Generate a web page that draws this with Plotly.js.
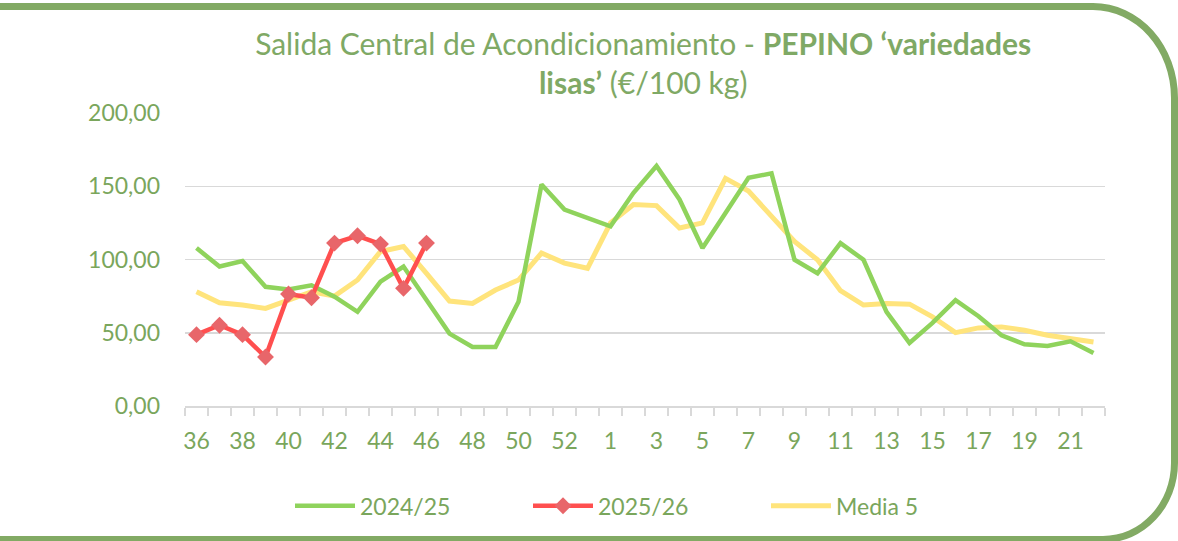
<!DOCTYPE html>
<html>
<head>
<meta charset="utf-8">
<script src="https://cdn.plot.ly/plotly-3.0.1.min.js"></script>
<style>
  html, body { margin:0; padding:0; background:#ffffff; overflow:hidden; }
  #wrap { position:relative; width:1178px; height:541px; }
  #chart { position:absolute; left:0; top:0; width:1178px; height:541px; }
  #frame { position:absolute; left:-20px; top:3px; width:1198px; height:540px; box-sizing:border-box;
           border:7px solid #82aa64; border-top-right-radius:85px 95px; border-bottom-right-radius:75px 80px;
           pointer-events:none; z-index:5; }
</style>
</head>
<body>
<div id="wrap">
  <div id="chart"></div>
  <div id="frame"></div>
</div>
<script>
// Week categories (campaign weeks 36 → 53, then 1 → 22)
const weeks = ["36","37","38","39","40","41","42","43","44","45","46","47","48","49","50","51","52","53",
               "1","2","3","4","5","6","7","8","9","10","11","12","13","14","15","16","17","18","19","20","21","22"];

// 2024/25 campaign (€/100 kg)
const serie2425 = [107.8, 95.2, 99.0, 81.4, 79.6, 82.4, 74.6, 64.3, 84.9, 95.2, 72.3, 49.4, 40.3, 40.3,
                   71.1, 151.2, 134.1, 128.4, 122.6, 145.5, 163.8, 141.0, 107.8, 131.8, 155.8, 158.8,
                   99.8, 90.6, 111.2, 99.8, 64.3, 43.0, 56.7, 72.3, 61.3, 48.3, 42.1, 41.0, 44.2, 36.1];

// 2025/26 campaign (€/100 kg) – weeks 36 to 46
const serie2526 = [48.7, 55.1, 48.7, 33.4, 76.4, 73.9, 111.2, 116.2, 110.5, 80.3, 111.2];

// Media 5 campañas (€/100 kg)
const media5 = [78.0, 70.5, 68.9, 66.6, 72.3, 78.0, 75.0, 86.0, 105.5, 108.9, 90.6, 71.6, 70.0, 79.2,
                86.0, 104.4, 97.5, 94.0, 125.0, 137.5, 136.8, 121.5, 125.0, 155.4, 146.7, 129.5,
                112.3, 99.8, 78.7, 68.9, 70.0, 69.5, 60.8, 50.1, 53.3, 54.0, 51.7, 48.3, 46.0, 43.7];

const seriesNames = ["2024/25", "2025/26", "Media 5"];

// Positions along the week axis (one slot per week) and the labels shown (every other week)
const pos = weeks.map((w, i) => i);
const labelPos = pos.filter(i => i % 2 === 0);
const labelText = labelPos.map(i => weeks[i]);
const boundaries = pos.map(i => i - 0.5).concat([weeks.length - 0.5]);

const txtColor = "#7aa65c";
const fontFam = "Lato, 'Open Sans', sans-serif";

const traces = [
  { x: pos, y: media5, name: seriesNames[2], type: "scatter", mode: "lines",
    line: { color: "#ffe47c", width: 5 }, legendrank: 3 },
  { x: pos, y: serie2425, name: seriesNames[0], type: "scatter", mode: "lines",
    line: { color: "#8fd35c", width: 4.5 }, legendrank: 1 },
  { x: pos.slice(0, serie2526.length), y: serie2526, name: seriesNames[1], type: "scatter", mode: "lines+markers",
    line: { color: "#ff4f4f", width: 4.5 },
    marker: { symbol: "diamond", size: 13, color: "#e8666a", line: { width: 0 } }, legendrank: 2 }
];

const layout = {
  width: 1178, height: 541,
  margin: { l: 185, r: 73, t: 113, b: 135 },
  paper_bgcolor: "#ffffff", plot_bgcolor: "#ffffff",
  separators: ",.",
  font: { family: fontFam, color: txtColor, size: 22 },
  title: {
    text: "Salida Central de Acondicionamiento - <b>PEPINO ‘variedades</b><br><b>lisas’</b> (€/100 kg)",
    font: { family: fontFam, size: 30, color: "#7fa965" },
    x: 0.546, xanchor: "center", y: 0.899, yanchor: "top", yref: "container"
  },
  xaxis: {
    type: "linear", range: [-0.5, weeks.length - 0.5],
    tickmode: "array", tickvals: labelPos, ticktext: labelText, tickangle: 0,
    ticks: "", 
    minor: { tickmode: "array", tickvals: boundaries, ticks: "outside", ticklen: 8, tickwidth: 1.5,
             tickcolor: "#d9d9d9", showgrid: false },
    showline: true, linecolor: "#d9d9d9", linewidth: 1.5,
    showgrid: false, zeroline: false, fixedrange: true,
    tickfont: { family: fontFam, size: 23, color: txtColor }, ticklabelstandoff: 14
  },
  yaxis: {
    range: [0, 200], dtick: 50, tick0: 0, tickformat: ".2f",
    showgrid: true, gridcolor: "#d9d9d9", gridwidth: 1.5,
    zeroline: false, showline: false, ticks: "",
    tickfont: { family: fontFam, size: 23, color: txtColor }, ticklabelstandoff: 24,
    fixedrange: true
  },
  showlegend: true,
  legend: {
    orientation: "h", x: 290 / 1178, xanchor: "left", xref: "container",
    y: 0.065, yanchor: "middle", yref: "container",
    font: { family: fontFam, size: 23, color: txtColor },
    entrywidth: 163, entrywidthmode: "pixels", itemwidth: 60,
    traceorder: "normal", bgcolor: "rgba(0,0,0,0)"
  }
};

Plotly.newPlot("chart", traces, layout, { displayModeBar: false, staticPlot: true });
</script>
</body>
</html>
